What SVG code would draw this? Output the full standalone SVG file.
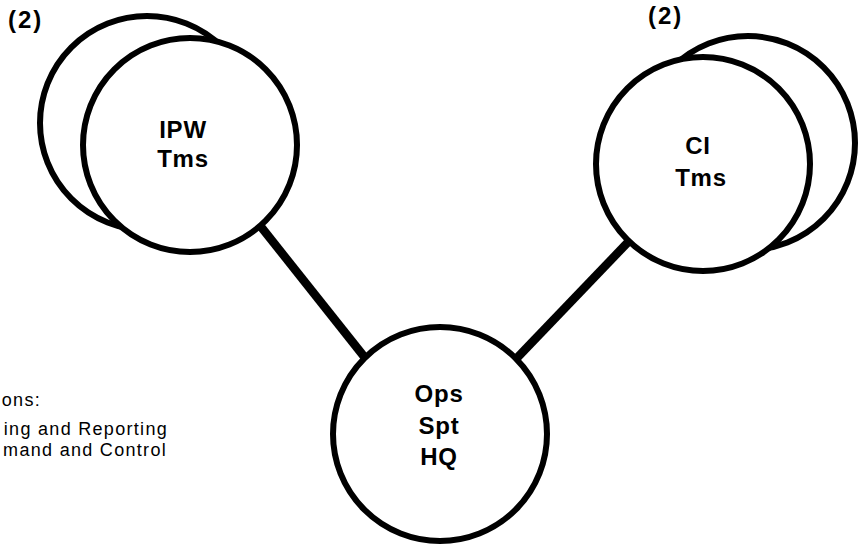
<svg xmlns="http://www.w3.org/2000/svg" width="858" height="546" viewBox="0 0 858 546">
<style>
.c{fill:#fff;stroke:#000;stroke-width:6}
.l{font-family:"Liberation Sans",Arial,sans-serif;font-weight:bold;font-size:24px;letter-spacing:0.8px;text-anchor:middle;fill:#000}
.n{font-family:"Liberation Sans",Arial,sans-serif;font-weight:bold;font-size:24px;letter-spacing:2px;fill:#000}
.t{font-family:"Liberation Sans",Arial,sans-serif;font-size:18px;letter-spacing:1.3px;text-anchor:end;fill:#000}
.e{stroke:#000;stroke-width:8.5;fill:none}
</style>
<rect width="858" height="546" fill="#fff"/>
<g id="connectors">
<line class="e" x1="258" y1="223" x2="366" y2="359"/>
<line class="e" x1="632" y1="238" x2="516" y2="359"/>
</g>
<g id="ipw">
<circle class="c" cx="147" cy="123" r="107"/>
<circle class="c" cx="190" cy="145" r="107"/>
<text class="l" x="183" y="138">IPW</text>
<text class="l" x="183" y="167">Tms</text>
<text class="n" x="8" y="28">(2)</text>
</g>
<g id="ci">
<circle class="c" cx="748" cy="143" r="107"/>
<circle class="c" cx="703" cy="164" r="107"/>
<text class="l" x="698" y="154">CI</text>
<text class="l" x="701" y="186">Tms</text>
<text class="n" x="648" y="24">(2)</text>
</g>
<g id="ops">
<circle class="c" cx="440" cy="434" r="107"/>
<text class="l" x="439" y="402">Ops</text>
<text class="l" x="439" y="434">Spt</text>
<text class="l" x="439" y="465">HQ</text>
</g>
<g id="legend">
<text class="t" x="41" y="406">ons:</text>
<text class="t" x="168" y="435">ing and Reporting</text>
<text class="t" x="167" y="456">mand and Control</text>
</g>
</svg>
